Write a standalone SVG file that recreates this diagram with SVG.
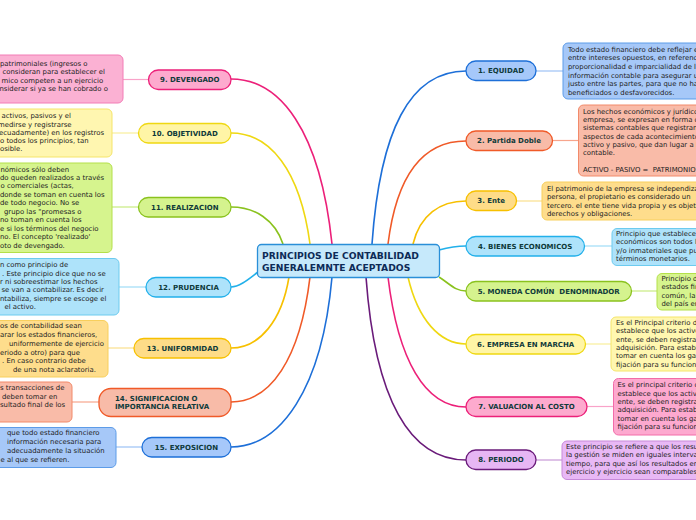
<svg xmlns="http://www.w3.org/2000/svg" width="696" height="520" viewBox="0 0 696 520">
<style>
text{font-family:"DejaVu Sans",Verdana,"Liberation Sans",sans-serif}
.lbl{font-size:7px;font-weight:bold;fill:#0f3a3a;text-anchor:middle}
.lbl2{font-size:7px;font-weight:bold;fill:#0f3a3a}
.title{font-size:9.2px;font-weight:bold;fill:#0d2b57}
.body{font-size:6.9px;fill:#222}
.pill{stroke-width:1.3}
.box{stroke-width:1}
.con path{fill:none;stroke-width:1.6}
.lnk line{stroke-width:1.2}
</style>
<rect width="696" height="520" fill="#ffffff"/>

<g class="con">
<path d="M372,244 C380,130 410,71 466,71" stroke="#1d6fd8"/>
<path d="M388,244 C396,180 420,141 466,141" stroke="#f05a28"/>
<path d="M413,244 C420,215 440,201 466,201" stroke="#f7c000"/>
<path d="M439,250 C450,247 455,246 466,246" stroke="#22b0ea"/>
<path d="M439,277 C450,284 455,291 466,291" stroke="#8ac21e"/>
<path d="M408,277 C418,320 440,344 466,344" stroke="#efd812"/>
<path d="M388,277 C398,360 425,407 466,407" stroke="#ec2079"/>
<path d="M366,277 C375,400 410,460 466,460" stroke="#6a1b7a"/>
<path d="M283,244 C275,220 255,207 231,207" stroke="#8ac21e"/>
<path d="M310,244 C300,170 270,133 231,133" stroke="#efd812"/>
<path d="M332,244 C320,130 280,79 231,79" stroke="#ec2079"/>
<path d="M258,272 C250,278 240,287 231,287" stroke="#22b0ea"/>
<path d="M289,277 C282,320 260,348 231,348" stroke="#f7c000"/>
<path d="M310,277 C300,360 270,402 231,402" stroke="#f05a28"/>
<path d="M332,277 C322,390 280,447 231,447" stroke="#1d6fd8"/>
</g>

<g class="lnk">
<line x1="536" y1="71" x2="563" y2="71" stroke="#9cc2f5"/>
<line x1="552" y1="140.5" x2="578" y2="140.5" stroke="#f7a58c"/>
<line x1="517" y1="201" x2="542" y2="201" stroke="#fbdf8c"/>
<line x1="584" y1="246" x2="612" y2="246" stroke="#9fdcf7"/>
<line x1="632" y1="291" x2="657" y2="291" stroke="#c8ec80"/>
<line x1="586" y1="344" x2="611" y2="344" stroke="#f8ef9c"/>
<line x1="587" y1="406.5" x2="613" y2="406.5" stroke="#f9a3c9"/>
<line x1="536" y1="460" x2="562" y2="460" stroke="#c99ad8"/>
<line x1="148" y1="79.5" x2="123" y2="79.5" stroke="#f9a3c9"/>
<line x1="138" y1="133" x2="112" y2="133" stroke="#f8ef9c"/>
<line x1="138" y1="207" x2="112" y2="207" stroke="#c8ec80"/>
<line x1="146" y1="287" x2="119" y2="287" stroke="#9fdcf7"/>
<line x1="134" y1="348" x2="108" y2="348" stroke="#fbdf8c"/>
<line x1="99" y1="402" x2="72" y2="402" stroke="#f7a58c"/>
<line x1="142" y1="447" x2="116" y2="447" stroke="#9cc2f5"/>
</g>

<g id="center">
<rect x="257.5" y="244.5" width="182" height="33" rx="4" fill="#c6e9fb" stroke="#2a8fd8" stroke-width="1.3"/>
<text class="title" x="262" y="259">PRINCIPIOS DE CONTABILIDAD</text>
<text class="title" x="262" y="270.5">GENERALEMNTE ACEPTADOS</text>
</g>

<g id="n1">
<rect class="pill" x="466" y="61" width="70" height="19.5" rx="9.7" fill="#a6c8fa" stroke="#1d6fd8"/>
<text class="lbl" x="501" y="73.3">1. EQUIDAD</text>
<rect class="box" x="563" y="43" width="150" height="56" rx="5" fill="#a6c8f8" stroke="#5d9ce8"/>
<text class="body"><tspan x="568" y="51.5">Todo estado financiero debe reflejar el equilibrio</tspan><tspan x="568" y="60.2">entre intereses opuestos, en referencia a la</tspan><tspan x="568" y="68.9">proporcionalidad e imparcialidad de la</tspan><tspan x="568" y="77.6">información contable para asegurar un trato</tspan><tspan x="568" y="86.3">justo entre las partes, para que no haya</tspan><tspan x="568" y="95">beneficiados o desfavorecidos.</tspan></text>
</g>

<g id="n2">
<rect class="pill" x="466" y="131" width="86.5" height="19.5" rx="9.7" fill="#f8bba8" stroke="#f05a28"/>
<text class="lbl" x="509" y="143.3">2. Partida Doble</text>
<rect class="box" x="578.5" y="105" width="130" height="71" rx="5" fill="#f9bba8" stroke="#f28a6a"/>
<text class="body"><tspan x="583" y="114">Los hechos económicos y jurídicos de la</tspan><tspan x="583" y="122.2">empresa, se expresan en forma de</tspan><tspan x="583" y="130.4">sistemas contables que registran los dos</tspan><tspan x="583" y="138.6">aspectos de cada acontecimiento: el</tspan><tspan x="583" y="146.8">activo y pasivo, que dan lugar a la ecuación</tspan><tspan x="583" y="155">contable.</tspan><tspan x="583" y="171.7" style="white-space:pre">ACTIVO - PASIVO =  PATRIMONIO</tspan></text>
</g>

<g id="n3">
<rect class="pill" x="466" y="191" width="50.5" height="19.5" rx="9.7" fill="#fedc88" stroke="#f7c000"/>
<text class="lbl" x="491.2" y="203.3">3. Ente</text>
<rect class="box" x="542" y="182" width="170" height="38" rx="5" fill="#fedd8c" stroke="#f8cf5c"/>
<text class="body"><tspan x="547" y="191">El patrimonio de la empresa se independiza de la</tspan><tspan x="547" y="199.3">persona, el propietario es considerado un</tspan><tspan x="547" y="207.7">tercero. el ente tiene vida propia y es objeto de</tspan><tspan x="547" y="216">derechos y obligaciones.</tspan></text>
</g>

<g id="n4">
<rect class="pill" x="466" y="236.5" width="118.5" height="19.5" rx="9.7" fill="#aee3fb" stroke="#22b0ea"/>
<text class="lbl" x="525.2" y="248.8">4. BIENES ECONOMICOS</text>
<rect class="box" x="612" y="228.5" width="100" height="37" rx="5" fill="#aee2fa" stroke="#6ccbef"/>
<text class="body"><tspan x="616" y="236">Principio que establece que los</tspan><tspan x="616" y="244.3">económicos son todos los bienes</tspan><tspan x="616" y="252.6">y/o inmateriales que pueden</tspan><tspan x="616" y="261">términos monetarios.</tspan></text>
</g>

<g id="n5">
<rect class="pill" x="466" y="281.5" width="165.5" height="19.5" rx="9.7" fill="#d5f38e" stroke="#8ac21e"/>
<text class="lbl" x="548.7" y="293.8" style="white-space:pre">5. MONEDA COMÚN  DENOMINADOR</text>
<rect class="box" x="657" y="273.5" width="60" height="36.5" rx="5" fill="#d6f48e" stroke="#b4e04a"/>
<text class="body"><tspan x="661.5" y="281">Principio de que los</tspan><tspan x="661.5" y="289.3">estados financieros</tspan><tspan x="661.5" y="297.7">común, la moneda</tspan><tspan x="661.5" y="306">del país en</tspan></text>
</g>

<g id="n6">
<rect class="pill" x="466" y="334.5" width="119.5" height="19.5" rx="9.7" fill="#fff5a6" stroke="#efd812"/>
<text class="lbl" x="525.7" y="346.8">6. EMPRESA EN MARCHA</text>
<rect class="box" x="611" y="317" width="100" height="54" rx="5" fill="#fff7b0" stroke="#f5e56a"/>
<text class="body"><tspan x="616" y="325">Es el Principal criterio de valuación</tspan><tspan x="616" y="333.3">establece que los activos del</tspan><tspan x="616" y="341.7">ente, se deben registrar a su</tspan><tspan x="616" y="350">adquisición. Para establecer</tspan><tspan x="616" y="358.3">tomar en cuenta los gastos</tspan><tspan x="616" y="366.7">fijación para su funcionamiento.</tspan></text>
</g>

<g id="n7">
<rect class="pill" x="466" y="397" width="121" height="19.5" rx="9.7" fill="#fdaace" stroke="#ec2079"/>
<text class="lbl" x="526.5" y="409.3">7. VALUACION AL COSTO</text>
<rect class="box" x="613.5" y="378.5" width="100" height="56.5" rx="5" fill="#fda9cf" stroke="#f26ca8"/>
<text class="body"><tspan x="617.5" y="387.3">Es el principal criterio de valuación</tspan><tspan x="617.5" y="395.7">establece que los activos del</tspan><tspan x="617.5" y="404">ente, se deben registrar a su</tspan><tspan x="617.5" y="412.3">adquisición. Para establecer</tspan><tspan x="617.5" y="420.7">tomar en cuenta los gastos</tspan><tspan x="617.5" y="429">fijación para su funcionamiento.</tspan></text>
</g>

<g id="n8">
<rect class="pill" x="466" y="450" width="70" height="19.5" rx="9.7" fill="#e7b6f4" stroke="#6a1b7a"/>
<text class="lbl" x="501" y="462.3">8. PERIODO</text>
<rect class="box" x="562" y="441" width="150" height="38.5" rx="5" fill="#e8b8f5" stroke="#c78ad9"/>
<text class="body"><tspan x="566" y="449">Este principio se refiere a que los resultados de</tspan><tspan x="566" y="457.3">la gestión se miden en iguales intervalos de</tspan><tspan x="566" y="465.7">tiempo, para que así los resultados entre</tspan><tspan x="566" y="474">ejercicio y ejercicio sean comparables.</tspan></text>
</g>

<g id="n9">
<rect class="pill" x="148.5" y="70" width="82.5" height="19.5" rx="9.7" fill="#fdaace" stroke="#ec2079"/>
<text class="lbl" x="189.8" y="82.2">9. DEVENGADO</text>
<rect class="box" x="-20" y="55" width="143" height="48" rx="5" fill="#fbb1d3" stroke="#f27db6"/>
<text class="body"><tspan x="0" y="65.7">patrimoniales (ingresos o</tspan><tspan x="2.5" y="74.3">consideran para establecer el</tspan><tspan x="1.5" y="82.6">mico competen a un ejercicio</tspan><tspan x="-0.5" y="91">nsiderar si ya se han cobrado o</tspan></text>
</g>

<g id="n10">
<rect class="pill" x="138.5" y="123.5" width="92.5" height="19.5" rx="9.7" fill="#fff5a6" stroke="#efd812"/>
<text class="lbl" x="184.8" y="135.7">10. OBJETIVIDAD</text>
<rect class="box" x="-20" y="109" width="132" height="48" rx="5" fill="#fff6b0" stroke="#f5e56a"/>
<text class="body"><tspan x="1.5" y="118.3">activos, pasivos y el</tspan><tspan x="-2" y="126.6">medirse y registrarse</tspan><tspan x="-1" y="134.6">ecuadamente) en los registros</tspan><tspan x="0" y="143">o todos los principios, tan</tspan><tspan x="0" y="151.3">osible.</tspan></text>
</g>

<g id="n11">
<rect class="pill" x="138.5" y="197.5" width="92.5" height="19.5" rx="9.7" fill="#d5f38e" stroke="#8ac21e"/>
<text class="lbl" x="184.8" y="209.7">11. REALIZACION</text>
<rect class="box" x="-20" y="163" width="132" height="89.5" rx="5" fill="#d6f48e" stroke="#b4e04a"/>
<text class="body"><tspan x="0.5" y="171.5">nómicos sólo deben</tspan><tspan x="0" y="180">do queden realizados a través</tspan><tspan x="0.5" y="188.3">o comerciales (actas,</tspan><tspan x="0" y="196.7">donde se toman en cuenta los</tspan><tspan x="0" y="205">de todo negocio. No se</tspan><tspan x="4" y="213.5">grupo las "promesas o</tspan><tspan x="0" y="222">no toman en cuenta los</tspan><tspan x="0" y="230.7">e si los términos del negocio</tspan><tspan x="0" y="239">no. El concepto 'realizado'</tspan><tspan x="0" y="247.7">oto de devengado.</tspan></text>
</g>

<g id="n12">
<rect class="pill" x="146" y="277.5" width="85" height="19.5" rx="9.7" fill="#aee3fb" stroke="#22b0ea"/>
<text class="lbl" x="188.5" y="289.7">12. PRUDENCIA</text>
<rect class="box" x="-20" y="258.5" width="139" height="56.5" rx="5" fill="#aee3fa" stroke="#6ccbef"/>
<text class="body"><tspan x="0" y="266.7">n como principio de</tspan><tspan x="2" y="275.7">. Este principio dice que no se</tspan><tspan x="0" y="284">r ni sobreestimar los hechos</tspan><tspan x="1.5" y="292.3">se van a contabilizar. Es decir</tspan><tspan x="0" y="300.7">ntabiliza, siempre se escoge el</tspan><tspan x="4.5" y="309.3">el activo.</tspan></text>
</g>

<g id="n13">
<rect class="pill" x="134" y="338.5" width="97" height="19.5" rx="9.7" fill="#fedc88" stroke="#f7c000"/>
<text class="lbl" x="182.5" y="350.7">13. UNIFORMIDAD</text>
<rect class="box" x="-20" y="320.5" width="128" height="56.5" rx="5" fill="#fedd8c" stroke="#f8cf5c"/>
<text class="body"><tspan x="0" y="328.3">os de contabilidad sean</tspan><tspan x="0" y="337.3">arar los estados financieros,</tspan><tspan x="9" y="346">uniformemente de ejercicio</tspan><tspan x="0" y="355">eriodo a otro) para que</tspan><tspan x="2" y="363.3">. En caso contrario debe</tspan><tspan x="13" y="372.3">de una nota aclaratoria.</tspan></text>
</g>

<g id="n14">
<rect class="pill" x="99" y="388.5" width="132" height="28" rx="12" fill="#f8bba8" stroke="#f05a28"/>
<text class="lbl2"><tspan x="115" y="400.7">14. SIGNIFICACION O</tspan><tspan x="115" y="409">IMPORTANCIA RELATIVA</tspan></text>
<rect class="box" x="-20" y="382" width="92" height="40" rx="5" fill="#f9bba8" stroke="#f28a6a"/>
<text class="body"><tspan x="0" y="390">s transacciones de</tspan><tspan x="2" y="399">deben tomar en</tspan><tspan x="0" y="407.3">sultado final de los</tspan></text>
</g>

<g id="n15">
<rect class="pill" x="142" y="437.5" width="89" height="19.5" rx="9.7" fill="#a6c8fa" stroke="#1d6fd8"/>
<text class="lbl" x="186.5" y="449.7">15. EXPOSICION</text>
<rect class="box" x="-20" y="427.5" width="136" height="40" rx="5" fill="#a6c8f8" stroke="#5d9ce8"/>
<text class="body"><tspan x="7" y="435">que todo estado financiero</tspan><tspan x="7" y="444.3">información necesaria para</tspan><tspan x="7" y="453.3">adecuadamente la situación</tspan><tspan x="0.5" y="461.7">e al que se refieren.</tspan></text>
</g>
</svg>
